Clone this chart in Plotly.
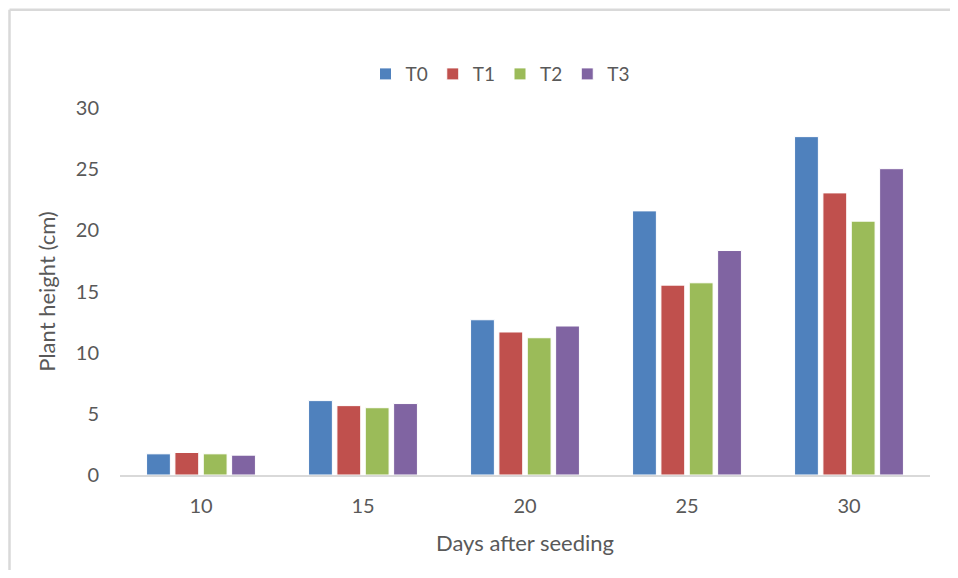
import plotly.graph_objects as go

days = ["10", "15", "20", "25", "30"]
series_names = ["T0", "T1", "T2", "T3"]
T0 = [1.73, 6.08, 12.69, 21.59, 27.66]
T1 = [1.84, 5.67, 11.69, 15.52, 23.06]
T2 = [1.73, 5.50, 11.22, 15.71, 20.75]
T3 = [1.62, 5.84, 12.18, 18.35, 25.04]
values = [T0, T1, T2, T3]
colors = ["#4f81bd", "#c0504d", "#9bbb59", "#8064a2"]

# page body has an 8px margin on every side; keep the figure inside the window
OFF = 8
W, H = 958 - 2 * OFF, 578 - 2 * OFF
L, T = 120 - OFF, 108 - OFF
R = W - (930 - OFF)
B = H - (475.5 - OFF)
pw, ph = W - L - R, H - T - B

fig = go.Figure()
for name, vals, c in zip(series_names, values, colors):
    fig.add_trace(go.Bar(name=name, x=days, y=vals, marker=dict(color=c, line=dict(color="white", width=1))))

font_family = "Lato, 'Open Sans', sans-serif"
fig.update_layout(
    width=W, height=H,
    margin=dict(l=L, r=R, t=T, b=B, pad=0),
    paper_bgcolor="white", plot_bgcolor="white",
    barmode="group", bargap=0.30, bargroupgap=0.16,
    font=dict(family=font_family, color="#595959", size=20),
    legend=dict(orientation="h", x=(500 - 120) / pw, xanchor="center", y=1 + (108 - 74) / ph, yanchor="middle",
                font=dict(size=19, color="#595959"), itemwidth=30, traceorder="normal"),
    xaxis=dict(showline=True, linecolor="#d9d9d9", linewidth=1.5, showgrid=False, ticks="",
               tickfont=dict(size=20, color="#595959"), ticklabelstandoff=12,
               title=dict(text="Days after seeding", font=dict(size=22, color="#595959"), standoff=20)),
    yaxis=dict(range=[0, 30], dtick=5, showgrid=False, showline=False, zeroline=False, ticks="",
               tickfont=dict(size=20, color="#595959"), ticklabelstandoff=20,
               title=dict(text="Plant height (cm)", font=dict(size=22, color="#595959"), standoff=14)),
    showlegend=True,
)

# chart border (top and left visible), drawn at the figure's top-left edge
ytop = 1 + (T - 1.5) / ph
xleft = (1.5 - L) / pw
fig.add_shape(type="line", xref="paper", yref="paper", x0=xleft, x1=1 + R / pw + 0.02, y0=ytop, y1=ytop,
              line=dict(color="#d9d9d9", width=2.5))
fig.add_shape(type="line", xref="paper", yref="paper", x0=xleft, x1=xleft, y0=ytop, y1=-B / ph - 0.02,
              line=dict(color="#d9d9d9", width=2.5))

fig.write_html("out.html", config={"displayModeBar": False},
               post_script="document.documentElement.style.overflow='hidden';document.body.style.overflow='hidden';")
